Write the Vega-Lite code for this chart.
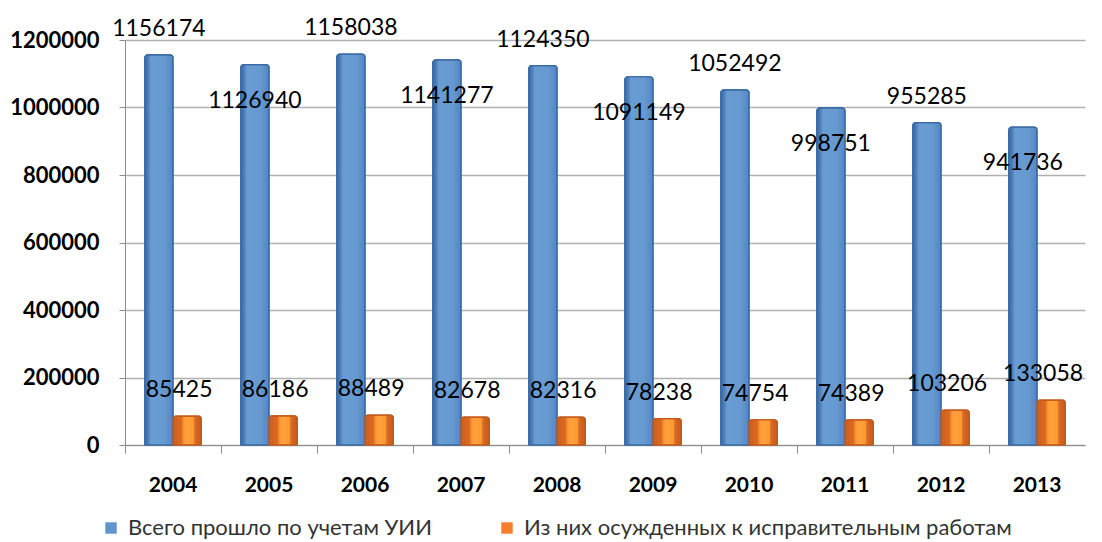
{
  "$schema": "https://vega.github.io/schema/vega-lite/v6.json",
  "width": 960,
  "height": 405,
  "autosize": {"type": "none"},
  "padding": {"left": 125, "top": 40, "right": 17, "bottom": 97},
  "background": "white",
  "config": {
    "view": {"stroke": null},
    "font": "Lato, Noto Sans"
  },
  "data": {
    "values": [
      {"year": "2004", "series": "Всего прошло по учетам УИИ", "value": 1156174},
      {"year": "2005", "series": "Всего прошло по учетам УИИ", "value": 1126940},
      {"year": "2006", "series": "Всего прошло по учетам УИИ", "value": 1158038},
      {"year": "2007", "series": "Всего прошло по учетам УИИ", "value": 1141277},
      {"year": "2008", "series": "Всего прошло по учетам УИИ", "value": 1124350},
      {"year": "2009", "series": "Всего прошло по учетам УИИ", "value": 1091149},
      {"year": "2010", "series": "Всего прошло по учетам УИИ", "value": 1052492},
      {"year": "2011", "series": "Всего прошло по учетам УИИ", "value": 998751},
      {"year": "2012", "series": "Всего прошло по учетам УИИ", "value": 955285},
      {"year": "2013", "series": "Всего прошло по учетам УИИ", "value": 941736},
      {"year": "2004", "series": "Из них осужденных к исправительным работам", "value": 85425},
      {"year": "2005", "series": "Из них осужденных к исправительным работам", "value": 86186},
      {"year": "2006", "series": "Из них осужденных к исправительным работам", "value": 88489},
      {"year": "2007", "series": "Из них осужденных к исправительным работам", "value": 82678},
      {"year": "2008", "series": "Из них осужденных к исправительным работам", "value": 82316},
      {"year": "2009", "series": "Из них осужденных к исправительным работам", "value": 78238},
      {"year": "2010", "series": "Из них осужденных к исправительным работам", "value": 74754},
      {"year": "2011", "series": "Из них осужденных к исправительным работам", "value": 74389},
      {"year": "2012", "series": "Из них осужденных к исправительным работам", "value": 103206},
      {"year": "2013", "series": "Из них осужденных к исправительным работам", "value": 133058}
    ]
  },
  "encoding": {
    "x": {
      "field": "year", "type": "ordinal", "title": null,
      "scale": {"paddingInner": 0, "paddingOuter": 0},
      "axis": {
        "bandPosition": 0, "labelAngle": 0, "labelFont": "Lato", "labelFontSize": 21,
        "labelFontWeight": "bold", "labelColor": "#000000", "labelPadding": 21,
        "tickSize": 8, "tickColor": "#8c8c8c", "domainColor": "#8c8c8c", "grid": false
      }
    },
    "xOffset": {
      "field": "series", "type": "nominal",
      "scale": {"paddingOuter": 0.7, "paddingInner": 0}
    },
    "y": {
      "field": "value", "type": "quantitative", "title": null,
      "scale": {"domain": [0, 1200000], "nice": false},
      "axis": {
        "values": [0, 200000, 400000, 600000, 800000, 1000000, 1200000],
        "format": "d", "labelFont": "Lato", "labelFontSize": 22, "labelFontWeight": "bold",
        "labelColor": "#000000", "labelPadding": 20, "tickSize": 6, "tickColor": "#8c8c8c",
        "domainColor": "#8c8c8c", "grid": true, "gridColor": "#b0b0b0", "gridWidth": 1.5
      }
    }
  },
  "layer": [
    {
      "mark": {"type": "bar", "strokeWidth": 1.2, "cornerRadiusTopLeft": 3, "cornerRadiusTopRight": 3},
      "encoding": {
        "fill": {
          "field": "series", "type": "nominal", "title": null,
          "scale": {
            "domain": ["Всего прошло по учетам УИИ", "Из них осужденных к исправительным работам"],
            "range": ["#5f94cc", "#f47e2c"]
          },
          "legend": {
            "orient": "none", "legendX": -25, "legendY": 477, "direction": "horizontal",
            "symbolType": "square", "symbolSize": 130, "symbolStrokeWidth": 0,
            "labelFont": "Lato, Noto Sans", "labelFontSize": 22, "labelColor": "#333333",
            "columnPadding": 64, "labelLimit": 700, "labelOffset": 6
          }
        },
        "stroke": {
          "field": "series", "type": "nominal", "legend": null,
          "scale": {
            "domain": ["Всего прошло по учетам УИИ", "Из них осужденных к исправительным работам"],
            "range": ["#3a6aa3", "#c4591b"]
          }
        }
      }
    },
    {
      "transform": [{"filter": "datum.series == 'Всего прошло по учетам УИИ'"}],
      "mark": {
        "type": "bar", "strokeWidth": 1.2, "stroke": "#3a6aa3",
        "cornerRadiusTopLeft": 3, "cornerRadiusTopRight": 3,
        "fill": {
          "gradient": "linear", "x1": 0, "y1": 0, "x2": 1, "y2": 0,
          "stops": [
            {"offset": 0, "color": "#3a6aa3"},
            {"offset": 0.14, "color": "#4f82bf"},
            {"offset": 0.22, "color": "#6a9cd4"},
            {"offset": 0.7, "color": "#6699d0"},
            {"offset": 1, "color": "#5585c0"}
          ]
        }
      }
    },
    {
      "transform": [{"filter": "datum.series == 'Из них осужденных к исправительным работам'"}],
      "mark": {
        "type": "bar", "strokeWidth": 1.2, "stroke": "#c4591b",
        "cornerRadiusTopLeft": 3, "cornerRadiusTopRight": 3,
        "fill": {
          "gradient": "linear", "x1": 0, "y1": 0, "x2": 1, "y2": 0,
          "stops": [
            {"offset": 0, "color": "#c95f1e"},
            {"offset": 0.3, "color": "#dc6a24"},
            {"offset": 0.36, "color": "#ff8a2a"},
            {"offset": 0.45, "color": "#ffa23c"},
            {"offset": 0.72, "color": "#ff9a36"},
            {"offset": 0.78, "color": "#d86a22"},
            {"offset": 1, "color": "#c45a1b"}
          ]
        }
      }
    },
    {
      "transform": [
        {"filter": "datum.series == 'Всего прошло по учетам УИИ' && toNumber(datum.year) % 2 == 0"}
      ],
      "mark": {"type": "text", "fontSize": 23, "baseline": "middle", "dy": -26, "color": "#000000"},
      "encoding": {"text": {"field": "value", "type": "quantitative", "format": "d"}}
    },
    {
      "transform": [
        {"filter": "datum.series == 'Всего прошло по учетам УИИ' && toNumber(datum.year) % 2 == 1"}
      ],
      "mark": {"type": "text", "fontSize": 23, "baseline": "middle", "dy": 36, "color": "#000000"},
      "encoding": {"text": {"field": "value", "type": "quantitative", "format": "d"}}
    },
    {
      "transform": [
        {"filter": "datum.series == 'Из них осужденных к исправительным работам'"}
      ],
      "mark": {"type": "text", "fontSize": 23, "baseline": "middle", "dy": -26, "dx": -8, "color": "#000000"},
      "encoding": {"text": {"field": "value", "type": "quantitative", "format": "d"}}
    }
  ]
}
